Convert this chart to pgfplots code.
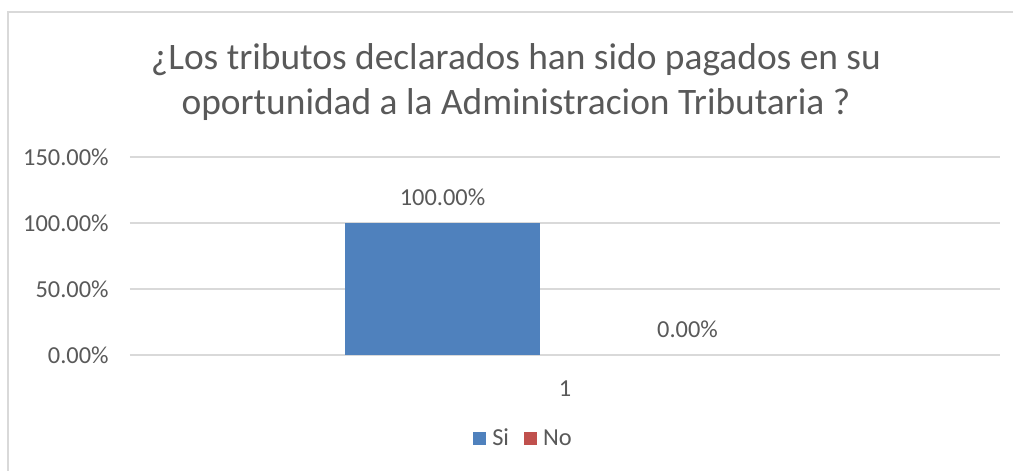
\documentclass[border=0pt]{standalone}
\usepackage{fontspec}
\setmainfont{Carlito}
\usepackage{pgfplots}
\pgfplotsset{compat=1.18}
\definecolor{txt}{HTML}{595959}
\definecolor{gridc}{HTML}{D9D9D9}
\definecolor{siblue}{HTML}{4F81BD}
\definecolor{nored}{HTML}{C0504D}
\newcommand{\lblfont}{\fontsize{12.2}{14}\selectfont}
\begin{document}
\begin{tikzpicture}[x=0.5pt,y=0.5pt]
\useasboundingbox (0,0) rectangle (1013,471);
\draw[gridc, line width=0.75pt] (8,-2) -- (8,459) -- (1015,459);
\node[txt, font=\fontsize{18.7}{22}\selectfont, anchor=base, inner sep=0pt] at (516,401) {¿Los tributos declarados han sido pagados en su};
\node[txt, font=\fontsize{18.7}{22}\selectfont, anchor=base, inner sep=0pt] at (516,356) {oportunidad a la Administracion Tributaria ?};
\begin{axis}[
  at={(65pt,58pt)}, anchor=south west,
  width=435pt, height=99pt, scale only axis,
  ybar=25pt, bar width=97.5pt,
  xmin=0.5, xmax=1.5, ymin=0, ymax=150,
  xtick={1}, ytick={0,50,100,150},
  axis line style={draw=none},
  major tick length=0pt,
  ymajorgrids, grid style={gridc, line width=0.75pt},
  tick label style={font=\lblfont, text=txt},
  /pgf/number format/assume math mode=true,
  yticklabel={\pgfmathprintnumber[fixed,fixed zerofill,precision=2]{\tick}\%},
  yticklabel style={anchor=east, inner sep=0pt, xshift=-10.5pt},
  xticklabel style={anchor=base, inner sep=0pt, yshift=-21pt},
  nodes near coords={\pgfmathprintnumber[fixed,fixed zerofill,precision=2]{\pgfplotspointmeta}\%},
  nodes near coords style={font=\lblfont, text=txt, inner sep=0pt, yshift=8.5pt},
  legend style={at={(0.4517,-0.424)}, anchor=center, draw=none, legend columns=-1,
    font=\lblfont, text=txt, nodes={inner sep=0.5pt},
    /tikz/every odd column/.append style={column sep=2.5pt},
    /tikz/every even column/.append style={column sep=7pt}},
]
\addplot[fill=siblue, draw=none,
  legend image code/.code={\fill[siblue] (0pt,-3.25pt) rectangle (6.5pt,3.25pt);}]
  coordinates {(1,100)};
\addplot[fill=none, draw=none,
  legend image code/.code={\fill[nored] (0pt,-3.25pt) rectangle (6.5pt,3.25pt);}]
  coordinates {(1,0)};
\legend{Si,No}
\end{axis}
\end{tikzpicture}
\end{document}
